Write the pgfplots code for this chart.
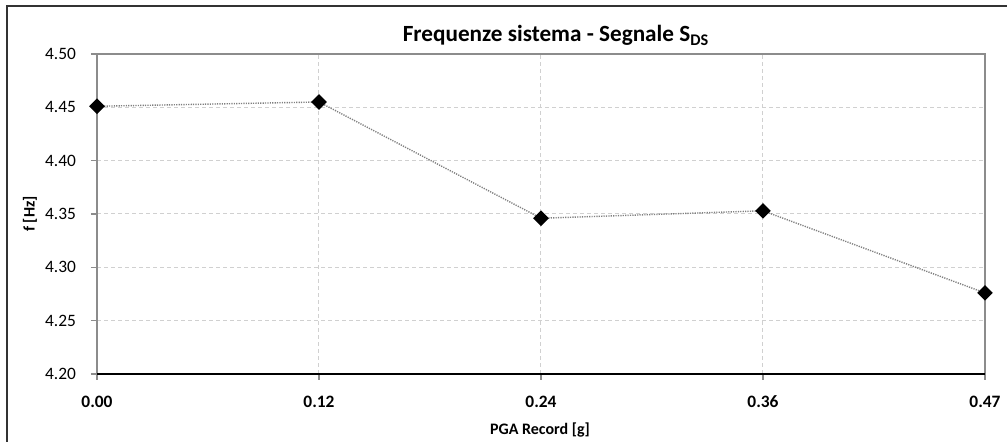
\documentclass[border=0pt]{standalone}
\usepackage{fontspec}
\setmainfont{Carlito}
\usepackage{pgfplots}
\pgfplotsset{compat=1.18}
\definecolor{gridgray}{HTML}{D0D0D0}
\definecolor{boxgray}{HTML}{8C8C8C}
\definecolor{linegray}{HTML}{7F7F7F}

\begin{document}
\begin{tikzpicture}
\begin{axis}[
  scale only axis,
  width=444pt, height=160pt,
  xmin=0, xmax=4,
  ymin=4.20, ymax=4.50,
  xtick={0,1,2,3,4},
  xticklabels={0.00,0.12,0.24,0.36,0.47},
  ytick={4.20,4.25,4.30,4.35,4.40,4.45,4.50},
  yticklabel style={/pgf/number format/fixed,/pgf/number format/fixed zerofill,
    /pgf/number format/precision=2,font=\fontsize{8.7}{10}\selectfont,xshift=-4pt},
  xticklabel style={font=\fontsize{8.7}{10}\selectfont\bfseries,yshift=-4.5pt},
  /pgf/number format/assume math mode=true,
  tick align=outside,
  major tick length=3pt,
  tick style={boxgray,line width=0.6pt},
  xtick pos=bottom, ytick pos=left,
  axis line style={boxgray,line width=0.6pt},
  grid=major,
  major grid style={gridgray,dash pattern=on 2pt off 1.5pt,line width=0.5pt},
  clip=false,
]
\addplot[linegray,line width=0.7pt,dash pattern=on 0.6pt off 0.6pt,
  mark=square*,mark size=2.4pt,
  mark options={solid,fill=black,draw=black,rotate=45}] coordinates {
  (0,4.451) (1,4.455) (2,4.346) (3,4.353) (4,4.276)
};
\draw[black,line width=1pt] (axis description cs:0,0) -- (axis description cs:1,0);
\end{axis}
\node[anchor=base,font=\fontsize{11.6}{13}\selectfont\bfseries] at (229.5pt,166pt)
  {Frequenze sistema - Segnale S\textsubscript{DS}};
\node[anchor=base,font=\fontsize{8}{9}\selectfont\bfseries] at (221.5pt,-30.5pt) {PGA Record [g]};
\node[rotate=90,font=\fontsize{8}{9}\selectfont\bfseries] at (-33.5pt,80pt) {f [Hz]};
\draw[black!80,line width=0.7pt] (-45pt,-34pt) -- (-45pt,184pt) -- (455pt,184pt);
\pgfresetboundingbox
\path (-48.5pt,-34pt) rectangle (455pt,187pt);
\end{tikzpicture}
\end{document}
